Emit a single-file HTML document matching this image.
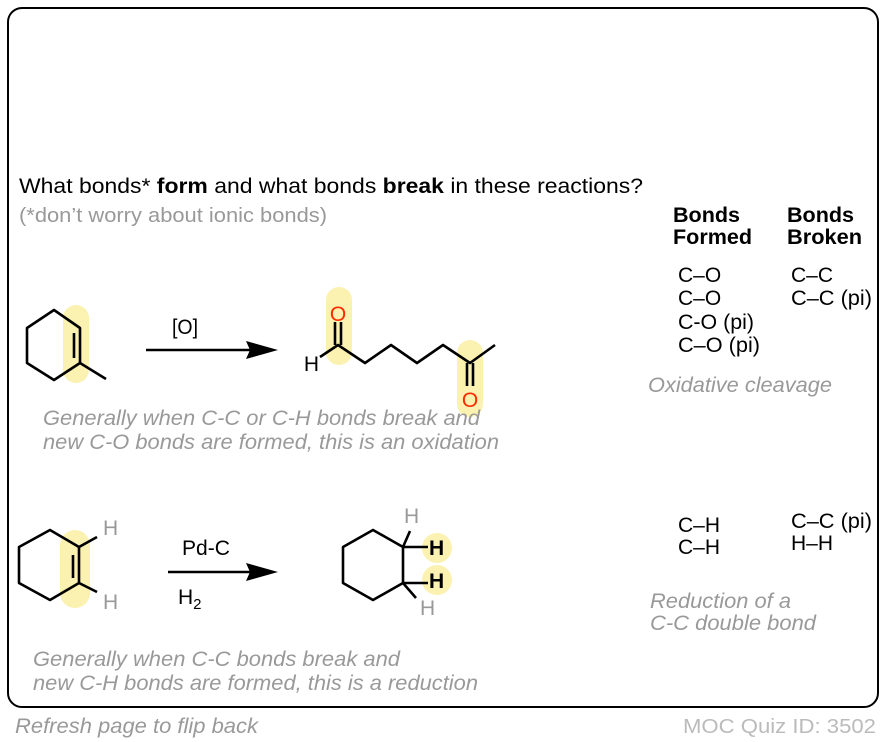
<!DOCTYPE html>
<html><head><meta charset="utf-8"><style>
html,body{margin:0;padding:0;background:#fff;}
svg{display:block;font-family:"Liberation Sans",Arial,sans-serif;}
</style></head><body>
<svg width="886" height="742" viewBox="0 0 886 742" xmlns="http://www.w3.org/2000/svg">
<rect x="8" y="8" width="870" height="699" rx="14" fill="#fff" stroke="#000" stroke-width="2"/>
<text x="19" y="193" font-size="21" fill="#000" textLength="624" lengthAdjust="spacingAndGlyphs">What bonds* <tspan font-weight="bold">form</tspan> and what bonds <tspan font-weight="bold">break</tspan> in these reactions?</text>
<text x="19" y="222" font-size="20.5" fill="#999" textLength="308" lengthAdjust="spacingAndGlyphs">(*don’t worry about ionic bonds)</text>

<!-- highlights -->
<g fill="#fbf0a8" opacity="0.9">
<rect x="63" y="305" width="26" height="78" rx="13"/>
<rect x="326" y="287" width="26" height="78" rx="13"/>
<rect x="457" y="340" width="26" height="77" rx="13"/>
<rect x="60" y="530" width="30" height="78" rx="15"/>
<circle cx="437" cy="548" r="15"/>
<circle cx="437" cy="580" r="15"/>
</g>

<g stroke="#000" stroke-width="2.6" fill="none" stroke-linejoin="round">
<polygon points="54,310 80,328 80,363 54,380 27,363 27,328"/>
<line x1="80" y1="363" x2="106" y2="379"/>
<line x1="74" y1="333" x2="74" y2="358"/>
<line x1="146" y1="350" x2="256" y2="350"/>
<polyline points="320,357 338,345 365,363 391,345 417,363 443,345 470,363 495,345"/>
<line x1="335" y1="345" x2="335" y2="322"/>
<line x1="341" y1="345" x2="341" y2="322"/>
<line x1="467" y1="363" x2="467" y2="386"/>
<line x1="473" y1="363" x2="473" y2="386"/>
<polygon points="50,530 79,547 79,583 50,600 19,583 19,547"/>
<line x1="73" y1="555" x2="73" y2="578"/>
<line x1="79" y1="547" x2="97" y2="537"/>
<line x1="79" y1="583" x2="97" y2="592"/>
<line x1="168" y1="572" x2="256" y2="572"/>
<polygon points="373,530 403,547 403,583 373,600 343,583 343,547"/>
<line x1="403" y1="547" x2="428" y2="547"/>
<line x1="403" y1="583" x2="428" y2="583"/>
<line x1="403" y1="547" x2="410" y2="531"/>
<line x1="403" y1="583" x2="416" y2="598"/>
</g>
<polygon points="278,350 246,341 250,350 246,359" fill="#000"/>
<polygon points="278,572 246,563 250,572 246,581" fill="#000"/>

<g font-size="21">
<text x="185" y="334" text-anchor="middle" textLength="26" lengthAdjust="spacingAndGlyphs" x2="0">[O]</text>
<text x="319" y="371" text-anchor="end">H</text>
<text x="338" y="321" text-anchor="middle" fill="#ff2a00">O</text>
<text x="470" y="407" text-anchor="middle" fill="#ff2a00">O</text>
<text x="103" y="535" fill="#999">H</text>
<text x="103" y="609" fill="#999">H</text>
<text x="182" y="555" textLength="48" lengthAdjust="spacingAndGlyphs">Pd-C</text>
<text x="178" y="604">H<tspan font-size="15" dy="5">2</tspan></text>
<text x="404" y="523" fill="#999">H</text>
<text x="429" y="555" font-weight="bold">H</text>
<text x="429" y="588" font-weight="bold">H</text>
<text x="420" y="615" fill="#999">H</text>
</g>

<g font-size="21.5" font-style="italic" fill="#999">
<text x="43" y="425" textLength="437" lengthAdjust="spacingAndGlyphs">Generally when C-C or C-H bonds break and</text>
<text x="43" y="449" textLength="456" lengthAdjust="spacingAndGlyphs">new C-O bonds are formed, this is an oxidation</text>
<text x="33" y="666" textLength="367" lengthAdjust="spacingAndGlyphs">Generally when C-C bonds break and</text>
<text x="33" y="690" textLength="445" lengthAdjust="spacingAndGlyphs">new C-H bonds are formed, this is a reduction</text>
<text x="648" y="392" textLength="184" lengthAdjust="spacingAndGlyphs">Oxidative cleavage</text>
<text x="650" y="608" textLength="141" lengthAdjust="spacingAndGlyphs">Reduction of a</text>
<text x="650" y="630" textLength="166" lengthAdjust="spacingAndGlyphs">C-C double bond</text>
</g>

<g font-size="21" font-weight="bold">
<text x="673" y="222" textLength="67" lengthAdjust="spacingAndGlyphs">Bonds</text>
<text x="673" y="244" textLength="79" lengthAdjust="spacingAndGlyphs">Formed</text>
<text x="787" y="222" textLength="67" lengthAdjust="spacingAndGlyphs">Bonds</text>
<text x="787" y="244" textLength="75" lengthAdjust="spacingAndGlyphs">Broken</text>
</g>
<g font-size="21">
<text x="678" y="282">C–O</text>
<text x="678" y="305">C–O</text>
<text x="678" y="329" textLength="76" lengthAdjust="spacingAndGlyphs">C-O (pi)</text>
<text x="678" y="352" textLength="82" lengthAdjust="spacingAndGlyphs">C–O (pi)</text>
<text x="791" y="282">C–C</text>
<text x="791" y="305" textLength="81" lengthAdjust="spacingAndGlyphs">C–C (pi)</text>
<text x="678" y="532">C–H</text>
<text x="678" y="554">C–H</text>
<text x="791" y="528" textLength="81" lengthAdjust="spacingAndGlyphs">C–C (pi)</text>
<text x="791" y="550">H–H</text>
</g>

<text x="15" y="733" font-size="21" font-style="italic" fill="#999" textLength="243" lengthAdjust="spacingAndGlyphs">Refresh page to flip back</text>
<text x="876" y="733" font-size="20" fill="#bbb" text-anchor="end" textLength="193" lengthAdjust="spacingAndGlyphs">MOC Quiz ID: 3502</text>
</svg>
</body></html>
